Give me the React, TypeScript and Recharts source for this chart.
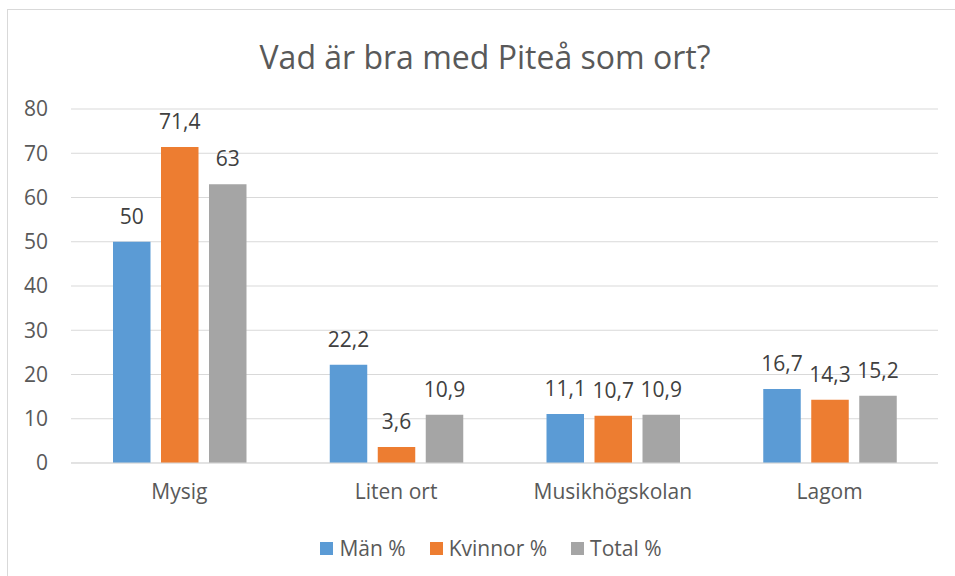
import React from "react";
import {
  BarChart,
  Bar,
  XAxis,
  YAxis,
  CartesianGrid,
  LabelList,
} from "recharts";

const categories = ["Mysig", "Liten ort", "Musikhögskolan", "Lagom"];
const manValues = [50, 22.2, 11.1, 16.7];
const kvinnorValues = [71.4, 3.6, 10.7, 14.3];
const totalValues = [63, 10.9, 10.9, 15.2];
const yTicks = [0, 10, 20, 30, 40, 50, 60, 70, 80];

const series = [
  { key: "man", name: "Män %", color: "#5B9BD5" },
  { key: "kvinnor", name: "Kvinnor %", color: "#ED7D31" },
  { key: "total", name: "Total %", color: "#A5A5A5" },
];

const data = categories.map((name, i) => ({
  name,
  man: manValues[i],
  kvinnor: kvinnorValues[i],
  total: totalValues[i],
}));

const FONT = "'Open Sans', sans-serif";
const TEXT_SIZE = 21;

const fmt = (v: unknown) =>
  typeof v === "number" ? String(v).replace(".", ",") : "";

export default function App() {
  return (
    <div
      style={{
        position: "absolute",
        left: 0,
        top: 0,
        width: 955,
        height: 576,
        overflow: "hidden",
        background: "#fff",
      }}
    >
      <div
        style={{
          position: "absolute",
          left: 7,
          top: 9,
          width: 960,
          height: 600,
          border: "1px solid #D9D9D9",
        }}
      />
      <div
        style={{
          position: "absolute",
          top: 35,
          left: 0,
          width: 970,
          textAlign: "center",
          fontFamily: FONT,
          fontSize: 32,
          color: "#595959",
        }}
      >
        Vad är bra med Piteå som ort?
      </div>
      <div style={{ position: "absolute", left: 0, top: 0 }}>
        <BarChart
          width={955}
          height={576}
          data={data}
          margin={{ top: 109, right: 17, left: 0, bottom: 73 }}
          barGap={10.5}
          barSize={37.5}
        >
          <CartesianGrid vertical={false} stroke="#D9D9D9" />
          <XAxis
            dataKey="name"
            height={40}
            tickLine={false}
            tickSize={0}
            tickMargin={21}
            axisLine={{ stroke: "#D9D9D9" }}
            tick={{ fill: "#595959", fontSize: TEXT_SIZE, fontFamily: FONT }}
          />
          <YAxis
            width={71}
            domain={[0, 80]}
            ticks={yTicks}
            axisLine={false}
            tickLine={false}
            tickSize={0}
            tickMargin={23}
            tick={{ fill: "#595959", fontSize: TEXT_SIZE, fontFamily: FONT }}
          />
          {series.map((s) => (
            <Bar
              key={s.key}
              dataKey={s.key}
              name={s.name}
              fill={s.color}
              isAnimationActive={false}
            >
              <LabelList
                dataKey={s.key}
                position="top"
                offset={18}
                formatter={fmt}
                fill="#404040"
                fontSize={TEXT_SIZE}
                fontFamily={FONT}
              />
            </Bar>
          ))}
        </BarChart>
      </div>
      <div
        style={{
          position: "absolute",
          left: 0,
          top: 534,
          width: 982,
          display: "flex",
          justifyContent: "center",
          gap: 24,
          fontFamily: FONT,
          fontSize: TEXT_SIZE,
          color: "#595959",
        }}
      >
        {series.map((s) => (
          <div key={s.key} style={{ display: "flex", alignItems: "center" }}>
            <span
              style={{
                width: 13,
                height: 13,
                background: s.color,
                display: "inline-block",
                marginRight: 6,
              }}
            />
            {s.name}
          </div>
        ))}
      </div>
    </div>
  );
}
